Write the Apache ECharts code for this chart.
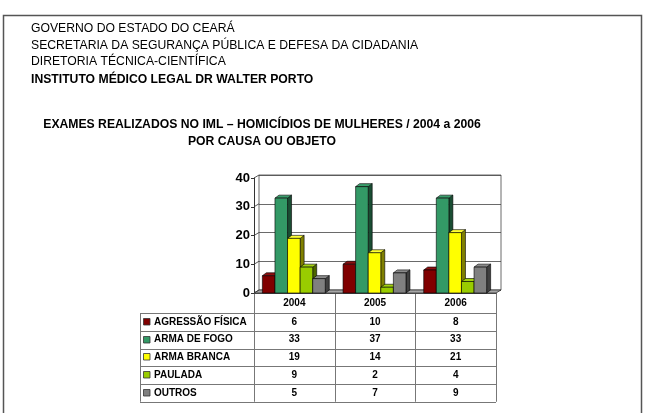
<!DOCTYPE html>
<html><head><meta charset="utf-8">
<script src="https://cdn.jsdelivr.net/npm/echarts@6/dist/echarts.min.js"></script>
<style>html,body{margin:0;padding:0;background:#fff}#c{width:645px;height:413px}</style>
</head><body><div id="c"></div>
<script>
const categories = ['2004', '2005', '2006'];
const seriesNames = ['AGRESSÃO FÍSICA', 'ARMA DE FOGO', 'ARMA BRANCA', 'PAULADA', 'OUTROS'];
const agressaoFisica = [6, 10, 8];
const armaDeFogo = [33, 37, 33];
const armaBranca = [19, 14, 21];
const paulada = [9, 2, 4];
const outros = [5, 7, 9];
const yTickValues = [0, 10, 20, 30, 40];
const headerLines = ['GOVERNO DO ESTADO DO CEARÁ', 'SECRETARIA DA SEGURANÇA PÚBLICA E DEFESA DA CIDADANIA', 'DIRETORIA TÉCNICA-CIENTÍFICA', 'INSTITUTO MÉDICO LEGAL DR WALTER PORTO'];
const titleLines = ['EXAMES REALIZADOS NO IML – HOMICÍDIOS DE MULHERES / 2004 a 2006', 'POR CAUSA OU OBJETO'];

const seriesValues = [agressaoFisica, armaDeFogo, armaBranca, paulada, outros];
const frontColors = ['#800000', '#339966', '#FFFF00', '#99CC00', '#808080'];
const sideColors = ['#400000', '#1a4d33', '#808000', '#4d6600', '#404040'];
const topColors = ['#8c1010', '#3a9e6c', '#ffff33', '#a3d10f', '#8a8a8a'];

const FF = '"Liberation Sans", Arial, sans-serif';
const DX = 4, DY = -3;      // bar depth
const WX = 5, WY = -3;      // wall depth

const chart = echarts.init(document.getElementById('c'), null, {renderer: 'canvas'});

function barSeries(s) {
  return {
    type: 'custom', name: seriesNames[s], xAxisIndex: 0, yAxisIndex: 0, z: 5,
    data: seriesValues[s].map((v, i) => [i, v]),
    renderItem: function (params, api) {
      const cat = api.value(0), v = api.value(1);
      const top = api.coord([cat, v]);
      const base = api.coord([cat, 0]);
      const band = api.size([1, 0])[0];
      const groupW = band * 0.78;
      const slot = groupW / 5;
      const x0 = top[0] - groupW / 2 + s * slot - 0.5;
      const x1 = x0 + slot;
      const yt = top[1], yb = base[1];
      const st = {stroke: '#000', lineWidth: 0.6};
      return {type: 'group', children: [
        {type: 'polygon', shape: {points: [[x1, yt], [x1 + DX, yt + DY], [x1 + DX, yb + DY], [x1, yb]]}, style: Object.assign({fill: sideColors[s]}, st)},
        {type: 'polygon', shape: {points: [[x0, yt], [x0 + DX, yt + DY], [x1 + DX, yt + DY], [x1, yt]]}, style: Object.assign({fill: topColors[s]}, st)},
        {type: 'rect', shape: {x: x0, y: yt, width: slot, height: yb - yt}, style: Object.assign({fill: frontColors[s]}, st)}
      ]};
    }
  };
}

const floorSeries = {
  type: 'custom', name: 'floor', xAxisIndex: 0, yAxisIndex: 0, z: 1, silent: true,
  data: [[0, 0]],
  renderItem: function (params, api) {
    const band = api.size([1, 0])[0];
    const l = api.coord([0, 0]), r = api.coord([categories.length - 1, 0]);
    const xl = l[0] - band / 2, xr = r[0] + band / 2, y = l[1];
    const children = [
      {type: 'polygon', shape: {points: [[xl, y], [xr, y], [xr + WX, y + WY], [xl + WX, y + WY]]}, style: {fill: '#a6a6a6', stroke: '#333', lineWidth: 0.8}}
    ];
    yTickValues.forEach(t => {
      const p = api.coord([0, t]);
      children.push({type: 'line', shape: {x1: xl, y1: p[1], x2: xl + WX, y2: p[1] + WY}, style: {stroke: '#333', lineWidth: 0.8}});
    });
    return {type: 'group', children: children};
  }
};

const option = {
  animation: false,
  backgroundColor: '#fff',
  grid: [
    {left: 254, top: 178, width: 242, height: 115},
    {left: 254 + WX, top: 178 + WY, width: 242, height: 115, show: true, borderColor: '#444', borderWidth: 0.8, backgroundColor: 'transparent'}
  ],
  xAxis: [
    {type: 'category', gridIndex: 0, data: categories, boundaryGap: true,
     axisLine: {show: true, lineStyle: {color: '#555', width: 1}}, axisTick: {show: false},
     axisLabel: {margin: 5, fontFamily: FF, fontSize: 10, fontWeight: 'bold', color: '#000'}},
    {type: 'category', gridIndex: 1, data: categories, show: false}
  ],
  yAxis: [
    {type: 'value', gridIndex: 0, min: 0, max: 40, interval: 10,
     axisLine: {show: true, lineStyle: {color: '#333', width: 1}},
     axisTick: {show: true, length: 3, lineStyle: {color: '#333'}},
     splitLine: {show: false},
     axisLabel: {margin: 4, fontFamily: FF, fontSize: 13, fontWeight: 'bold', color: '#000'}},
    {type: 'value', gridIndex: 1, min: 0, max: 40, interval: 10,
     axisLine: {show: false}, axisTick: {show: false}, axisLabel: {show: false},
     splitLine: {show: true, lineStyle: {color: '#444', width: 0.8}}}
  ],
  series: [floorSeries].concat(seriesNames.map((n, s) => barSeries(s)))
};
chart.setOption(option);

// Graphic: frame, header texts, data table (positions from the x axis)
const g = [];
g.push({type: 'rect', shape: {x: 3.5, y: 15.5, width: 638, height: 430}, style: {fill: 'none', stroke: '#555', lineWidth: 1.5}, z: 0});
const headerY = [28.5, 45.5, 62, 80];
headerLines.forEach((t, i) => {
  g.push({type: 'text', x: 31, y: headerY[i], style: {text: t, font: (i === 3 ? 'bold ' : '') + '12.2px ' + FF, fill: '#000', textAlign: 'left', textVerticalAlign: 'middle'}});
});
const titleY = [125, 142];
titleLines.forEach((t, i) => {
  g.push({type: 'text', x: 262, y: titleY[i], style: {text: t, font: 'bold 12.2px ' + FF, fill: '#000', textAlign: 'center', textVerticalAlign: 'middle'}});
});

const p0 = chart.convertToPixel({gridIndex: 0}, [0, 0]);
const p1 = chart.convertToPixel({gridIndex: 0}, [1, 0]);
const band = p1[0] - p0[0];
const colCenters = categories.map((c, i) => chart.convertToPixel({gridIndex: 0}, [i, 0])[0]);
const tableLeft = 140, tableRight = colCenters[colCenters.length - 1] + band / 2;
const colEdges = [colCenters[0] - band / 2].concat(colCenters.map(c => c + band / 2));
const headerTop = p0[1], headerBottom = 313;
const rowH = 17.75;
const lineStyle = {stroke: '#777', lineWidth: 1};
const tableBottom = headerBottom + rowH * seriesNames.length;
for (let r = 0; r <= seriesNames.length; r++) {
  const y = Math.round(headerBottom + r * rowH) + 0.5;
  g.push({type: 'line', shape: {x1: tableLeft, y1: y, x2: tableRight, y2: y}, style: lineStyle});
}
colEdges.forEach(x => {
  const xx = Math.round(x) + 0.5;
  g.push({type: 'line', shape: {x1: xx, y1: headerTop, x2: xx, y2: tableBottom}, style: lineStyle});
});
g.push({type: 'line', shape: {x1: tableLeft + 0.5, y1: headerBottom, x2: tableLeft + 0.5, y2: tableBottom}, style: lineStyle});
seriesNames.forEach((name, s) => {
  const cy = headerBottom + (s + 0.5) * rowH;
  g.push({type: 'rect', shape: {x: 143.5, y: Math.round(cy) - 3.5, width: 6.5, height: 6.5}, style: {fill: frontColors[s], stroke: '#333', lineWidth: 0.8}});
  g.push({type: 'text', x: 154, y: cy, style: {text: name, font: 'bold 10px ' + FF, fill: '#000', textAlign: 'left', textVerticalAlign: 'middle'}});
  seriesValues[s].forEach((v, i) => {
    g.push({type: 'text', x: colCenters[i], y: cy, style: {text: String(v), font: 'bold 10px ' + FF, fill: '#000', textAlign: 'center', textVerticalAlign: 'middle'}});
  });
});
chart.setOption({graphic: {elements: g}});
</script>
</body></html>
